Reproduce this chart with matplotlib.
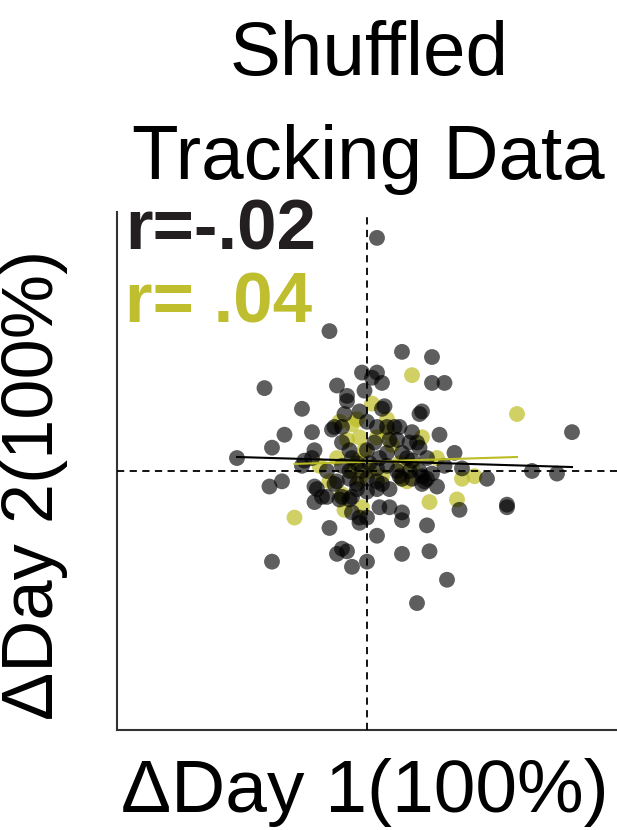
import numpy as np
import matplotlib
matplotlib.use('Agg')
import matplotlib.pyplot as plt

plt.rcParams['font.family'] = ['Liberation Sans', 'DejaVu Sans']

# change on day 1 / day 2 (scaled so that 100% = 1)
black_x = [0.04, -0.15, 0.14, 0.26, -0.41, -0.02, 0.04, 0.02, 0.06, -0.12,
           -0.01, -0.08, -0.08, 0.07, 0.06, -0.26, -0.09, -0.03, 0.22, 0.21,
           -0.33, -0.22, -0.14, -0.10, 0.00, 0.04, 0.08, 0.11, 0.13, -0.38,
           -0.21, -0.10, -0.07, -0.52, -0.22, 0.18, 0.20, 0.12, 0.03, 0.29,
           0.17, 0.21, 0.35, 0.31, 0.38, 0.82, 0.66, 0.76, 0.48, 0.24,
           0.22, 0.28, 0.14, 0.09, 0.08, 0.14, 0.05, 0.16, 0.18, 0.24,
           -0.25, -0.06, 0.00, -0.04, 0.01, 0.08, -0.16, -0.10, -0.07, -0.02,
           0.04, 0.12, 0.17, 0.21, 0.26, -0.12, -0.07, -0.04, 0.00, 0.04,
           0.06, 0.09, 0.13, 0.18, 0.23, 0.22, -0.20, -0.16, -0.21, -0.10,
           -0.06, -0.04, 0.00, 0.04, 0.05, 0.09, 0.14, -0.06, -0.03, 0.00,
           -0.26, -0.34, -0.39, -0.21, -0.18, -0.13, -0.11, -0.07, -0.03, -0.15,
           0.04, 0.14, -0.10, -0.08, -0.12, -0.38, 0.00, -0.06, 0.14, 0.20,
           0.24, 0.25, 0.32, 0.37, 0.56, 0.56, 0.26, 0.31, -0.13]
black_y = [0.90, 0.54, 0.46, 0.44, 0.32, 0.38, 0.38, 0.36, 0.34, 0.33,
           0.31, 0.29, 0.27, 0.25, 0.24, 0.24, 0.22, 0.23, 0.23, 0.22,
           0.14, 0.15, 0.16, 0.17, 0.19, 0.17, 0.17, 0.17, 0.17, 0.09,
           0.08, 0.11, 0.08, 0.05, 0.05, 0.15, 0.11, 0.12, 0.11, 0.14,
           0.11, 0.09, 0.07, 0.02, 0.01, 0.15, 0.00, -0.01, -0.03, -0.03,
           -0.05, -0.06, -0.03, 0.12, 0.07, 0.07, 0.05, 0.05, 0.04, 0.05,
           0.04, 0.05, 0.08, 0.03, 0.03, 0.02, 0.00, 0.02, 0.00, 0.00,
           0.01, 0.00, 0.00, 0.00, -0.01, -0.04, -0.03, -0.05, -0.03, -0.04,
           -0.05, -0.07, -0.02, -0.03, -0.04, -0.02, -0.07, -0.10, -0.12, -0.10,
           -0.10, -0.07, -0.08, -0.07, -0.14, -0.14, -0.16, -0.16, -0.18, -0.18,
           0.02, -0.04, -0.06, -0.06, -0.10, -0.05, -0.11, -0.11, -0.20, -0.22,
           -0.25, -0.19, -0.30, -0.31, -0.32, -0.35, -0.35, -0.37, -0.32, -0.51,
           -0.21, -0.31, -0.42, -0.15, -0.13, -0.14, 0.34, 0.34, 0.17]

yellow_x = [0.18, 0.60, -0.29, 0.38, 0.43, 0.25, 0.36, 0.02, -0.04, -0.06,
            -0.11, -0.03, 0.04, -0.12, -0.19, -0.04, -0.15, -0.03, -0.10, -0.02,
            0.06, 0.08, 0.22, 0.28, 0.14, 0.10, 0.08, 0.13, 0.18, 0.16,
            -0.01, -0.08, 0.01, -0.06, -0.09]
yellow_y = [0.37, 0.22, -0.18, -0.03, -0.02, -0.12, -0.11, 0.26, 0.20, 0.18,
            0.19, 0.13, 0.13, 0.05, 0.02, 0.04, -0.04, -0.03, -0.09, -0.14,
            -0.02, 0.15, 0.13, 0.05, -0.03, 0.10, 0.20, 0.03, 0.02, -0.04,
            0.08, 0.12, 0.00, 0.00, -0.15]

# regression fits (slope, intercept) and correlation labels
black_fit = (-0.029, 0.039)
yellow_fit = (0.030, 0.036)
black_r = 'r=-.02'
yellow_r = 'r= .04'

black_col = '#231f20'
yellow_col = '#bcbd22'
text_yellow = '#bebe2e'

fig = plt.figure(figsize=(6.17, 8.3), dpi=100)
ax = fig.add_axes([0.1896, 0.1205, 0.8104, 0.6241])

ax.scatter(yellow_x, yellow_y, s=130, color=yellow_col, alpha=0.7,
           edgecolors='none', zorder=2)
ax.scatter(black_x, black_y, s=130, color='k', alpha=0.63,
           edgecolors='none', zorder=3)

for xs, fit, col in [(yellow_x, yellow_fit, yellow_col), (black_x, black_fit, 'k')]:
    lx = np.array([min(xs), max(xs)])
    ax.plot(lx, fit[0] * lx + fit[1], color=col, lw=1.5, zorder=4)

ax.axvline(0, color='k', ls=(0, (4, 3)), lw=1.3, zorder=5)
ax.axhline(0, color='k', ls=(0, (4, 3)), lw=1.3, zorder=5)

ax.set_xlim(-1, 1)
ax.set_ylim(-1, 1)
ax.set_xticks([])
ax.set_yticks([])
for side in ['top', 'right']:
    ax.spines[side].set_visible(False)
for side in ['left', 'bottom']:
    ax.spines[side].set_color('#333333')
    ax.spines[side].set_linewidth(1.5)

# title, two lines placed on their baselines
fig.text(369 / 617, 1 - 75 / 830, 'Shuffled', ha='center', va='baseline',
         fontsize=55)
fig.text(368 / 617, 1 - 179 / 830, 'Tracking Data', ha='center', va='baseline',
         fontsize=55)

fig.text(0.2026, 0.6988, black_r, color=black_col, fontsize=51,
         fontweight='bold', va='baseline')
fig.text(0.2026, 0.612, yellow_r, color=text_yellow, fontsize=51,
         fontweight='bold', va='baseline')

fig.text(365 / 617, 1 - 812 / 830, '\u0394Day 1(100%)', ha='center',
         va='baseline', fontsize=54)
fig.text(35 / 617, 1 - 485 / 830, '\u0394Day 2(100%)', ha='center',
         va='center', rotation=90, fontsize=52)

fig.savefig('out.png', dpi=100)
